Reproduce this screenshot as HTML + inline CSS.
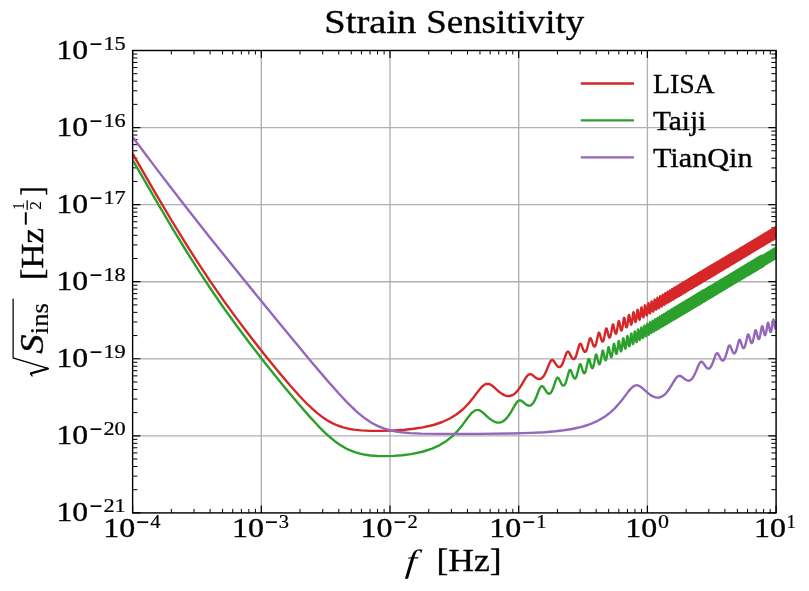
<!DOCTYPE html>
<html><head><meta charset="utf-8"><title>Strain Sensitivity</title>
<style>html,body{margin:0;padding:0;background:#fff;}svg{display:block;}text{font-family:"Liberation Serif",serif;fill:#000;stroke:#000;stroke-width:0.35;}.s{stroke-width:0.22;}.m{stroke-width:0;}.q{stroke-width:0.1;}</style></head><body>
<svg width="809" height="591" viewBox="0 0 809 591">
<rect x="0" y="0" width="809" height="591" fill="#fff"/>
<defs><clipPath id="ax"><rect x="132.6" y="50.5" width="643.5" height="462.4"/></clipPath></defs>
<path d="M132.6,50.5V512.9M261.3,50.5V512.9M390.0,50.5V512.9M518.7,50.5V512.9M647.4,50.5V512.9M776.1,50.5V512.9M132.6,50.5H776.1M132.6,127.6H776.1M132.6,204.6H776.1M132.6,281.7H776.1M132.6,358.8H776.1M132.6,435.8H776.1M132.6,512.9H776.1" stroke="#b0b0b0" stroke-width="1.35" fill="none"/>
<path d="M132.60,512.9v-7.5M132.60,50.5v7.5M261.30,512.9v-7.5M261.30,50.5v7.5M390.00,512.9v-7.5M390.00,50.5v7.5M518.70,512.9v-7.5M518.70,50.5v7.5M647.40,512.9v-7.5M647.40,50.5v7.5M776.10,512.9v-7.5M776.10,50.5v7.5M132.6,50.50h7.8M776.1,50.50h-7.8M132.6,127.57h7.8M776.1,127.57h-7.8M132.6,204.63h7.8M776.1,204.63h-7.8M132.6,281.70h7.8M776.1,281.70h-7.8M132.6,358.77h7.8M776.1,358.77h-7.8M132.6,435.83h7.8M776.1,435.83h-7.8M132.6,512.90h7.8M776.1,512.90h-7.8" stroke="#000" stroke-width="1.2" fill="none"/>
<path d="M171.34,512.9v-4.0M171.34,50.5v4.0M194.01,512.9v-4.0M194.01,50.5v4.0M210.09,512.9v-4.0M210.09,50.5v4.0M222.56,512.9v-4.0M222.56,50.5v4.0M232.75,512.9v-4.0M232.75,50.5v4.0M241.36,512.9v-4.0M241.36,50.5v4.0M248.83,512.9v-4.0M248.83,50.5v4.0M255.41,512.9v-4.0M255.41,50.5v4.0M300.04,512.9v-4.0M300.04,50.5v4.0M322.71,512.9v-4.0M322.71,50.5v4.0M338.79,512.9v-4.0M338.79,50.5v4.0M351.26,512.9v-4.0M351.26,50.5v4.0M361.45,512.9v-4.0M361.45,50.5v4.0M370.06,512.9v-4.0M370.06,50.5v4.0M377.53,512.9v-4.0M377.53,50.5v4.0M384.11,512.9v-4.0M384.11,50.5v4.0M428.74,512.9v-4.0M428.74,50.5v4.0M451.41,512.9v-4.0M451.41,50.5v4.0M467.49,512.9v-4.0M467.49,50.5v4.0M479.96,512.9v-4.0M479.96,50.5v4.0M490.15,512.9v-4.0M490.15,50.5v4.0M498.76,512.9v-4.0M498.76,50.5v4.0M506.23,512.9v-4.0M506.23,50.5v4.0M512.81,512.9v-4.0M512.81,50.5v4.0M557.44,512.9v-4.0M557.44,50.5v4.0M580.11,512.9v-4.0M580.11,50.5v4.0M596.19,512.9v-4.0M596.19,50.5v4.0M608.66,512.9v-4.0M608.66,50.5v4.0M618.85,512.9v-4.0M618.85,50.5v4.0M627.46,512.9v-4.0M627.46,50.5v4.0M634.93,512.9v-4.0M634.93,50.5v4.0M641.51,512.9v-4.0M641.51,50.5v4.0M686.14,512.9v-4.0M686.14,50.5v4.0M708.81,512.9v-4.0M708.81,50.5v4.0M724.89,512.9v-4.0M724.89,50.5v4.0M737.36,512.9v-4.0M737.36,50.5v4.0M747.55,512.9v-4.0M747.55,50.5v4.0M756.16,512.9v-4.0M756.16,50.5v4.0M763.63,512.9v-4.0M763.63,50.5v4.0M770.21,512.9v-4.0M770.21,50.5v4.0M132.6,104.37h4.8M776.1,104.37h-4.8M132.6,90.80h4.8M776.1,90.80h-4.8M132.6,81.17h4.8M776.1,81.17h-4.8M132.6,73.70h4.8M776.1,73.70h-4.8M132.6,67.60h4.8M776.1,67.60h-4.8M132.6,62.44h4.8M776.1,62.44h-4.8M132.6,57.97h4.8M776.1,57.97h-4.8M132.6,54.03h4.8M776.1,54.03h-4.8M132.6,181.43h4.8M776.1,181.43h-4.8M132.6,167.86h4.8M776.1,167.86h-4.8M132.6,158.23h4.8M776.1,158.23h-4.8M132.6,150.77h4.8M776.1,150.77h-4.8M132.6,144.66h4.8M776.1,144.66h-4.8M132.6,139.50h4.8M776.1,139.50h-4.8M132.6,135.04h4.8M776.1,135.04h-4.8M132.6,131.09h4.8M776.1,131.09h-4.8M132.6,258.50h4.8M776.1,258.50h-4.8M132.6,244.93h4.8M776.1,244.93h-4.8M132.6,235.30h4.8M776.1,235.30h-4.8M132.6,227.83h4.8M776.1,227.83h-4.8M132.6,221.73h4.8M776.1,221.73h-4.8M132.6,216.57h4.8M776.1,216.57h-4.8M132.6,212.10h4.8M776.1,212.10h-4.8M132.6,208.16h4.8M776.1,208.16h-4.8M132.6,335.57h4.8M776.1,335.57h-4.8M132.6,322.00h4.8M776.1,322.00h-4.8M132.6,312.37h4.8M776.1,312.37h-4.8M132.6,304.90h4.8M776.1,304.90h-4.8M132.6,298.80h4.8M776.1,298.80h-4.8M132.6,293.64h4.8M776.1,293.64h-4.8M132.6,289.17h4.8M776.1,289.17h-4.8M132.6,285.23h4.8M776.1,285.23h-4.8M132.6,412.63h4.8M776.1,412.63h-4.8M132.6,399.06h4.8M776.1,399.06h-4.8M132.6,389.43h4.8M776.1,389.43h-4.8M132.6,381.97h4.8M776.1,381.97h-4.8M132.6,375.86h4.8M776.1,375.86h-4.8M132.6,370.70h4.8M776.1,370.70h-4.8M132.6,366.24h4.8M776.1,366.24h-4.8M132.6,362.29h4.8M776.1,362.29h-4.8M132.6,489.70h4.8M776.1,489.70h-4.8M132.6,476.13h4.8M776.1,476.13h-4.8M132.6,466.50h4.8M776.1,466.50h-4.8M132.6,459.03h4.8M776.1,459.03h-4.8M132.6,452.93h4.8M776.1,452.93h-4.8M132.6,447.77h4.8M776.1,447.77h-4.8M132.6,443.30h4.8M776.1,443.30h-4.8M132.6,439.36h4.8M776.1,439.36h-4.8" stroke="#000" stroke-width="1.0" fill="none"/>
<g clip-path="url(#ax)" fill="none" stroke-width="2.4" stroke-linejoin="round" stroke-linecap="butt">
<polyline points="132.6,153.6 154.4,191.4 170.7,219.0 185.2,242.7 197.9,262.7 210.6,281.8 223.3,300.1 236.0,317.6 250.5,336.8 265.0,355.2 279.5,373.0 290.4,385.8 299.5,396.0 306.7,403.5 312.2,408.7 317.6,413.4 323.1,417.6 326.7,420.0 330.3,422.1 333.9,423.9 337.6,425.5 343.0,427.3 348.4,428.7 353.9,429.6 361.1,430.4 370.2,430.9 381.1,430.9 393.8,430.5 404.7,429.8 413.7,428.8 422.8,427.4 433.4,425.0 442.3,422.0 449.9,418.5 456.7,414.3 462.7,409.5 468.1,404.0 473.1,398.0 477.6,391.9 481.8,386.8 485.7,383.9 489.4,384.0 492.8,386.1 499.1,391.8 502.0,393.9 504.8,395.4 507.4,396.0 509.9,396.0 512.3,395.2 514.6,393.8 516.8,391.7 518.9,389.0 521.0,385.9 524.9,379.2 526.7,376.5 528.5,374.7 530.2,374.2 531.9,374.7 533.5,375.9 535.1,377.2 536.7,378.3 538.2,379.0 539.6,379.1 541.0,378.7 542.4,377.6 543.8,375.9 545.1,373.6 546.4,370.8 548.9,364.6 550.1,362.0 551.3,360.3 552.4,360.0 553.6,360.8 554.7,362.3 556.8,365.5 557.9,366.6 558.9,367.1 559.9,367.0 560.9,366.2 561.9,364.9 562.9,362.9 564.7,357.8 565.6,355.1 566.5,352.9 567.4,351.7 568.3,351.6 569.1,352.5 571.6,357.4 572.4,358.5 573.2,359.0 574.0,359.0 574.8,358.3 575.6,357.0 576.3,355.1 577.8,350.1 579.2,345.2 579.9,343.9 580.6,343.8 581.3,344.8 583.3,349.9 584.0,351.2 584.6,351.8 585.3,351.9 585.9,351.4 586.5,350.2 587.1,348.5 589.0,341.3 589.5,339.2 590.1,338.1 590.7,338.2 591.3,339.3 593.0,344.5 593.5,345.8 594.1,346.5 594.6,346.6 595.2,346.1 595.7,345.0 596.2,343.3 598.3,334.0 598.8,332.8 599.3,332.8 599.8,333.9 601.2,339.3 601.7,340.6 602.2,341.4 602.6,341.6 603.1,341.1 603.6,340.1 604.5,336.3 605.8,329.5 606.2,328.5 606.7,328.6 607.1,329.8 608.4,335.3 608.8,336.6 609.2,337.4 609.6,337.6 610.0,337.2 610.5,336.1 611.3,332.4 612.4,325.6 612.8,324.5 613.2,324.5 613.6,325.7 614.7,331.2 615.1,332.6 615.5,333.5 615.9,333.7 616.2,333.3 616.6,332.3 617.3,328.6 618.4,322.0 618.7,321.0 619.1,321.2 619.4,322.4 620.5,328.0 620.8,329.4 621.1,330.3 621.5,330.5 621.8,330.1 622.1,329.1 622.8,325.5 623.7,318.8 624.1,317.8 624.4,317.9 624.7,319.1 625.9,326.2 626.2,327.0 626.6,327.3 626.9,327.0 627.2,326.0 627.8,322.4 628.6,315.9 628.9,314.9 629.2,315.1 629.8,318.2 630.7,323.5 630.9,324.4 631.2,324.7 631.5,324.3 631.8,323.4 632.6,317.5 633.1,313.2 633.4,312.2 633.7,312.4 634.2,315.4 635.0,320.7 635.3,321.7 635.5,322.0 635.8,321.6 636.3,319.2 637.3,310.7 637.6,309.8 637.8,310.0 638.3,313.1 639.0,318.5 639.3,319.4 639.5,319.7 639.8,319.4 640.2,316.9 641.2,308.4 641.4,307.4 641.7,307.6 642.1,310.7 642.8,316.1 643.0,317.0 643.3,317.3 643.5,317.0 643.9,314.6 644.8,306.2 645.0,305.3 645.2,305.5 645.7,308.7 646.3,314.1 646.5,315.0 646.8,315.4 647.0,315.1 647.4,312.6 648.2,304.2 648.4,303.2 648.6,303.4 649.2,308.6 649.6,312.0 649.8,312.9 650.0,313.3 650.2,313.0 650.6,310.6 651.4,302.3 651.6,301.4 651.8,301.6 652.8,310.2 653.0,311.2 653.2,311.5 653.3,311.2 653.7,308.8 654.5,300.5 654.6,299.5 654.8,299.7 655.7,308.3 655.9,309.3 656.1,309.7 656.3,309.4 656.6,307.0 657.3,298.8 657.5,297.8 657.7,298.1 658.6,306.8 658.7,307.7 658.9,308.1 659.1,307.8 659.4,305.4 660.1,297.1 660.2,296.2 660.4,296.4 661.2,305.1 661.4,306.0 661.6,306.4 661.7,306.1 662.0,303.8 662.7,295.6 662.8,294.6 663.0,294.9 663.8,303.6 663.9,304.6 664.1,305.0 664.3,304.7 664.7,300.4 665.2,294.1 665.3,293.1 665.5,293.3 666.2,302.1 666.4,303.0 666.5,303.4 666.7,303.2 667.1,298.9 667.6,292.6 667.7,291.7 667.9,292.0 668.6,300.7 668.7,301.7 668.9,302.1 669.0,301.8 669.4,297.6 669.9,291.3 670.0,290.4 670.1,290.6 670.8,299.3 671.1,300.7 671.2,300.4 671.6,296.2 672.0,290.0 672.2,289.0 672.3,289.3 673.1,299.1 673.2,299.5 673.4,299.2 673.8,295.0 674.2,288.7 674.3,287.8 674.4,288.0 675.2,297.8 675.3,298.2 675.4,297.9 675.8,293.7 676.2,287.5 676.3,286.6 676.5,286.8 677.2,296.6 677.3,297.0 677.4,296.8 677.8,292.6 678.3,285.4 678.4,285.6 679.1,295.4 679.2,295.8 679.4,295.6 679.7,291.4 680.2,284.3 680.3,284.5 681.0,294.4 681.1,294.8 681.2,294.5 681.6,290.3 682.0,283.2 682.1,283.4 682.8,293.2 682.9,293.6 683.0,293.4 683.4,289.2 683.8,282.1 683.9,282.3 684.6,292.2 684.7,292.6 684.8,292.4 685.1,288.2 685.5,281.1 685.6,281.3 686.3,291.1 686.4,291.6 686.5,291.3 686.8,287.2 687.2,280.1 687.3,280.3 687.9,290.2 688.0,290.6 688.2,289.6 688.8,279.1 688.9,279.3 689.5,289.2 689.6,289.6 689.8,288.6 690.4,278.2 690.5,278.4 691.1,288.3 691.2,288.7 691.3,287.7 691.9,277.2 692.0,277.5 692.6,287.4 692.7,287.8 692.8,286.8 693.4,276.4 693.5,276.6 694.0,286.5 694.1,286.9 694.3,285.9 694.9,275.5 694.9,275.7 695.5,285.6 695.6,286.0 695.7,285.0 696.3,274.6 696.4,274.9 696.9,284.8 697.0,285.3 697.1,284.2 697.7,273.8 697.7,274.0 698.2,284.0 698.3,284.4 698.5,283.4 699.0,273.0 699.2,274.5 699.6,283.2 699.7,283.6 699.8,282.6 700.3,272.2 700.5,273.7 700.9,282.4 701.0,282.8 701.1,281.8 701.6,271.4 701.8,273.0 702.2,281.7 702.2,282.1 702.5,279.7 702.9,270.7 703.0,272.2 703.4,280.9 703.5,281.3 703.7,278.9 704.1,270.0 704.2,271.5 704.6,280.2 704.7,280.6 704.9,278.2 705.3,269.2 705.4,270.7 705.8,279.4 705.9,279.9 706.1,277.5 706.5,268.5 706.7,272.0 707.0,278.8 707.0,279.2 707.3,276.8 707.6,267.8 707.8,271.3 708.1,278.0 708.2,278.5 708.4,276.1 708.7,267.2 709.0,270.6 709.2,277.4 709.3,277.9 709.5,275.5 709.9,266.5 710.1,269.9 710.3,276.7 710.4,277.2 710.6,274.8 710.9,265.9 711.1,269.3 711.4,276.1 711.5,276.6 711.7,274.2 712.0,265.2 712.2,268.6 712.5,275.4 712.5,275.9 712.7,273.6 713.0,264.6 713.2,268.0 713.5,274.8 713.6,275.3 713.8,273.0 714.1,264.0 714.3,267.4 714.6,274.7 714.8,272.3 715.1,263.4 715.3,269.0 715.6,274.1 715.8,271.8 716.1,262.8 716.3,268.3 716.6,273.5 716.7,271.2 717.0,262.2 717.3,267.8 717.5,272.9 717.7,270.6 718.0,261.6 718.2,267.2 718.5,272.3 718.6,270.0 718.9,261.1 719.2,266.6 719.4,271.8 719.6,269.5 719.9,260.5 720.1,268.1 720.3,271.2 720.5,268.9 720.8,260.0 721.2,270.7 721.4,268.4 721.7,259.4 722.1,270.2 722.3,267.9 722.5,258.9 723.0,269.7 723.2,265.5 723.4,258.4 723.8,269.1 724.1,265.0 724.3,257.9 724.7,268.6 724.9,264.5 725.1,257.4 725.5,268.1 725.7,264.0 725.9,256.9 726.3,267.6 726.6,263.5 726.8,256.4 727.2,267.1 727.4,263.0 727.6,255.9 728.0,266.7 728.2,262.6 728.4,255.4 728.7,266.2 728.9,262.1 729.1,255.0 729.5,265.7 729.7,261.7 729.9,254.5 730.3,265.3 730.5,261.2 730.7,254.1 731.0,264.8 731.2,260.8 731.4,253.6 731.8,264.4 732.0,258.1 732.2,253.2 732.5,263.9 732.7,257.7 732.9,252.7 733.2,263.5 733.5,257.3 733.7,252.5 734.0,263.1 734.2,256.9 734.4,252.0 734.7,262.6 734.9,256.4 735.1,251.6 735.4,262.2 735.6,256.0 735.8,251.2 736.1,261.8 736.3,255.6 736.4,250.8 736.7,261.4 737.0,255.2 737.1,250.4 737.4,261.0 737.7,252.6 737.8,250.0 738.1,260.6 738.3,252.2 738.5,249.6 738.7,260.2 739.0,251.8 739.1,249.2 739.4,259.8 739.6,251.5 739.8,248.8 740.0,259.4 740.4,248.4 740.7,259.1 741.0,248.0 741.3,258.7 741.6,247.7 741.9,258.3 742.3,247.3 742.5,257.9 742.9,246.9 743.1,257.6 743.5,246.6 743.7,257.2 744.1,246.2 744.3,256.9 744.7,245.9 744.9,256.5 745.3,245.5 745.5,256.2 745.8,245.2 746.1,255.8 746.4,244.8 746.7,255.5 747.0,244.5 747.2,255.1 747.5,244.1 747.8,254.8 748.1,243.8 748.3,254.4 748.6,243.5 748.9,254.1 749.2,243.1 749.4,253.8 749.7,242.8 750.0,253.5 750.3,242.5 750.5,253.1 750.8,242.2 751.0,252.8 751.3,241.9 751.6,252.4 751.8,241.5 752.1,252.1 752.3,241.2 752.6,251.8 752.9,240.9 753.1,251.5 753.4,240.6 753.6,251.2 753.9,240.3 754.1,250.9 754.4,240.0 754.6,250.6 754.9,239.7 755.1,250.3 755.3,239.4 755.6,250.0 755.8,239.1 756.1,249.8 756.3,238.9 756.5,249.5 756.8,238.6 757.0,249.2 757.2,238.3 757.5,248.9 757.7,238.0 757.9,248.6 758.2,237.7 758.4,248.3 758.6,237.5 758.9,248.1 759.1,237.2 759.3,247.8 759.5,236.9 759.8,247.5 760.0,236.6 760.2,247.3 760.4,236.4 760.7,247.0 760.9,236.1 761.1,246.7 761.3,235.8 761.5,246.5 761.8,235.6 762.0,246.2 762.2,235.3 762.4,246.0 762.6,235.1 762.8,245.7 763.0,234.8 763.3,245.5 763.5,234.5 763.7,245.2 763.9,234.3 764.1,245.0 764.3,234.0 764.5,244.7 764.7,233.8 764.9,244.5 765.1,233.6 765.3,244.2 765.5,233.3 765.7,244.0 765.9,233.1 766.1,243.7 766.3,232.8 766.5,243.5 766.7,232.6 766.9,243.3 767.1,232.4 767.3,243.0 767.5,232.1 767.7,242.8 767.9,231.9 768.1,242.6 768.3,231.6 768.5,242.3 768.7,231.4 768.9,242.1 769.1,231.2 769.2,241.9 769.4,231.0 769.6,241.7 769.8,230.7 770.0,241.4 770.2,230.5 770.4,241.2 770.6,230.3 770.7,241.0 770.9,230.1 771.1,240.8 771.3,229.8 771.5,240.5 771.7,229.6 771.8,240.3 772.0,229.4 772.2,240.1 772.4,229.2 772.6,239.9 772.7,229.0 772.9,239.7 773.1,228.8 773.3,239.5 773.4,228.5 773.6,239.3 773.8,228.3 774.0,239.1 774.1,228.1 774.3,238.8 774.5,227.9 774.7,238.6 774.8,227.7 775.0,238.4 775.2,227.5 775.3,238.2 775.5,227.3 775.7,238.0 775.8,227.1 776.0,237.8 776.1,232.1" stroke="#d62728"/>
<polyline points="132.6,159.8 155.4,199.4 172.9,229.1 186.9,252.0 199.1,271.4 211.4,290.0 223.6,307.7 235.9,324.8 249.9,343.5 265.6,363.7 283.1,385.4 298.9,404.3 309.4,416.4 318.1,425.8 325.1,432.8 330.4,437.5 335.6,441.8 340.9,445.4 346.1,448.5 349.6,450.2 354.9,452.2 360.1,453.7 365.4,454.8 370.6,455.5 377.6,456.0 384.6,456.1 393.4,455.9 402.1,455.2 410.9,454.1 412.6,453.8 423.2,451.5 432.1,448.6 439.8,445.1 446.5,440.9 452.5,436.1 457.9,430.5 462.9,424.4 467.4,418.2 471.6,413.0 475.6,410.1 479.2,410.1 482.6,412.3 488.9,418.1 491.8,420.3 494.6,421.8 497.2,422.6 499.7,422.6 502.1,421.8 504.4,420.4 506.6,418.2 508.7,415.5 510.8,412.3 514.7,405.5 516.5,402.6 518.3,400.8 520.0,400.3 521.7,400.9 523.3,402.2 524.9,403.6 526.5,404.8 528.0,405.5 529.4,405.7 530.8,405.3 532.2,404.2 533.6,402.4 534.9,400.1 536.2,397.2 538.7,390.8 539.9,388.1 541.1,386.5 542.2,386.1 543.4,387.0 544.5,388.6 546.6,392.0 547.7,393.1 548.7,393.7 549.7,393.6 550.7,392.9 551.7,391.4 552.7,389.4 554.5,384.1 555.4,381.4 556.3,379.1 557.2,377.8 558.1,377.7 558.9,378.7 561.4,383.8 562.2,385.0 563.0,385.6 563.8,385.6 564.6,384.9 565.4,383.6 566.1,381.6 567.6,376.4 569.0,371.4 569.7,370.1 570.4,369.9 571.1,371.0 573.1,376.4 573.8,377.7 574.4,378.4 575.1,378.6 575.7,378.0 576.3,376.8 576.9,375.0 578.8,367.5 579.4,365.4 579.9,364.3 580.5,364.3 581.1,365.4 582.8,371.0 583.3,372.3 583.9,373.1 584.4,373.3 585.0,372.7 585.5,371.6 586.0,369.8 588.1,360.2 588.6,359.0 589.1,359.0 589.6,360.1 591.0,365.7 591.5,367.2 592.0,368.0 592.4,368.2 592.9,367.8 593.4,366.6 594.3,362.7 595.6,355.7 596.0,354.6 596.5,354.8 596.9,356.0 598.2,361.7 598.6,363.1 599.0,364.0 599.4,364.2 599.9,363.8 600.3,362.7 601.1,358.8 602.3,351.7 602.6,350.6 603.0,350.7 603.4,351.9 604.6,357.7 604.9,359.1 605.3,360.1 605.7,360.3 606.0,359.9 606.4,358.9 607.1,355.1 608.2,348.2 608.5,347.2 608.9,347.3 609.2,348.6 610.3,354.5 610.6,355.9 610.9,356.9 611.3,357.2 611.6,356.8 611.9,355.7 612.6,351.9 613.6,345.0 613.9,343.9 614.2,344.0 614.5,345.2 615.7,352.7 616.1,353.6 616.4,353.9 616.7,353.6 617.0,352.6 617.6,348.8 618.4,342.1 618.7,341.1 619.0,341.3 619.3,342.5 620.5,350.0 620.7,351.0 621.0,351.3 621.3,351.0 621.6,349.9 622.4,343.8 622.9,339.4 623.2,338.4 623.5,338.5 624.0,341.6 624.8,347.3 625.1,348.2 625.3,348.6 625.6,348.3 626.1,345.7 627.1,336.9 627.4,335.9 627.6,336.1 628.1,339.3 628.8,345.0 629.1,346.0 629.3,346.3 629.6,346.0 630.0,343.4 631.0,334.6 631.2,333.6 631.5,333.7 631.9,336.9 632.6,342.6 632.8,343.6 633.1,344.0 633.3,343.7 633.7,341.1 634.6,332.4 634.8,331.5 635.1,331.6 635.5,334.9 636.1,340.6 636.3,341.6 636.6,342.0 636.8,341.7 637.2,339.2 638.0,330.4 638.2,329.4 638.4,329.6 638.8,332.8 639.4,338.5 639.6,339.5 639.8,339.9 640.0,339.6 640.4,337.1 641.2,328.5 641.4,327.5 641.6,327.7 642.6,336.7 642.8,337.8 643.0,338.1 643.1,337.9 643.5,335.4 644.3,326.7 644.4,325.7 644.6,325.9 645.5,334.9 645.7,335.9 645.9,336.3 646.1,336.0 646.4,333.6 647.1,325.0 647.3,324.0 647.5,324.2 648.4,333.3 648.5,334.3 648.7,334.7 648.9,334.4 649.2,332.0 649.9,323.3 650.0,322.3 650.2,322.5 651.0,331.6 651.2,332.6 651.4,333.0 651.5,332.8 651.8,330.3 652.5,321.8 652.6,320.8 652.8,321.0 653.6,330.1 653.7,331.2 653.9,331.6 654.1,331.3 654.5,326.9 655.0,320.3 655.1,319.3 655.3,319.5 656.0,328.6 656.2,329.6 656.3,330.0 656.5,329.8 656.9,325.4 657.4,318.9 657.5,317.9 657.7,318.1 658.5,328.3 658.7,328.7 658.8,328.5 659.2,324.1 659.7,317.5 659.8,316.5 659.9,316.7 660.8,326.9 660.9,327.3 661.0,327.1 661.4,322.7 661.9,316.2 662.0,315.2 662.1,315.4 662.9,325.7 663.1,326.1 663.2,325.9 663.6,321.5 664.0,314.9 664.1,313.9 664.2,314.1 665.0,324.3 665.1,324.8 665.3,324.6 665.6,320.2 666.1,312.7 666.3,312.9 667.0,323.2 667.1,323.7 667.2,323.4 667.6,319.1 668.1,311.5 668.2,311.7 668.9,322.0 669.1,322.4 669.2,322.2 669.5,317.9 670.0,310.4 670.1,310.6 670.8,320.9 670.9,321.4 671.0,321.2 671.4,316.8 671.8,309.3 671.9,309.5 672.6,319.8 672.7,320.2 672.8,320.0 673.2,315.7 673.6,308.3 673.7,308.5 674.4,318.8 674.5,319.2 674.6,319.0 674.9,314.7 675.3,307.2 675.4,307.4 676.1,317.7 676.2,318.2 676.3,318.0 676.6,313.7 677.0,306.2 677.1,306.4 677.7,316.8 677.8,317.2 677.9,317.1 678.3,310.5 678.6,305.3 678.7,305.4 679.3,315.8 679.4,316.2 679.5,316.0 679.9,309.5 680.2,304.3 680.3,304.5 680.9,314.9 681.0,315.4 681.1,314.3 681.7,303.4 681.8,303.6 682.4,313.9 682.5,314.4 682.7,313.4 683.2,302.5 683.3,302.7 683.8,313.1 683.9,313.6 684.1,312.5 684.7,301.6 684.8,301.8 685.3,312.2 685.4,312.7 685.5,311.7 686.1,300.8 686.2,301.0 686.7,311.4 686.8,311.9 686.9,310.9 687.5,300.0 687.5,300.1 688.1,310.5 688.1,311.0 688.3,310.0 688.8,299.2 688.9,299.3 689.4,309.8 689.5,310.3 689.6,309.3 690.1,298.4 690.2,298.5 690.7,308.9 690.8,309.4 690.9,308.4 691.4,297.6 691.5,297.8 692.0,308.2 692.0,308.7 692.2,307.7 692.7,296.9 692.7,297.0 693.2,307.4 693.3,307.9 693.4,307.0 693.9,296.1 694.0,297.6 694.4,306.7 694.5,307.2 694.6,306.3 695.1,295.4 695.2,296.8 695.6,306.0 695.7,306.5 695.9,304.1 696.3,294.7 696.4,296.1 696.8,305.3 696.8,305.8 697.1,303.4 697.4,294.0 697.6,295.4 697.9,304.6 698.0,305.1 698.2,302.7 698.6,293.3 698.7,294.8 699.0,304.0 699.1,304.5 699.3,302.1 699.7,292.7 699.8,294.1 700.1,303.3 700.2,303.8 700.4,301.4 700.7,292.0 700.9,295.4 701.2,302.6 701.3,303.2 701.5,300.8 701.8,291.4 702.0,294.8 702.3,302.5 702.5,300.2 702.9,290.8 703.0,294.2 703.4,301.9 703.6,299.6 703.9,290.2 704.1,293.5 704.4,301.3 704.6,298.9 704.9,289.6 705.1,292.9 705.4,300.7 705.6,298.4 705.9,289.0 706.1,292.3 706.4,300.1 706.5,297.8 706.8,288.4 707.0,291.7 707.3,299.5 707.5,297.2 707.8,287.8 708.0,291.1 708.3,298.9 708.5,296.6 708.7,287.2 709.0,292.8 709.2,298.4 709.4,296.1 709.7,286.7 709.9,292.3 710.1,297.8 710.3,295.6 710.6,286.2 710.8,291.7 711.0,297.3 711.2,295.0 711.5,285.6 711.7,291.2 711.9,296.8 712.1,294.5 712.4,285.1 712.6,290.7 712.8,296.3 713.0,294.0 713.2,284.6 713.4,290.1 713.6,295.7 713.8,293.5 714.1,284.1 714.3,289.6 714.5,295.2 714.7,293.0 714.9,283.6 715.2,291.2 715.3,294.7 715.5,292.5 715.7,283.1 716.2,294.2 716.4,290.1 716.6,282.6 717.0,293.7 717.2,289.6 717.4,282.1 717.8,293.3 718.0,289.2 718.2,281.6 718.5,292.8 718.7,288.7 718.9,281.2 719.3,292.3 719.5,288.2 719.7,280.7 720.1,291.9 720.3,287.8 720.5,280.2 720.8,291.4 721.0,287.4 721.2,279.8 721.6,291.0 721.8,286.9 722.0,279.4 722.3,290.5 722.5,286.5 722.7,279.0 723.1,290.1 723.2,286.0 723.5,278.6 723.8,289.7 723.9,285.6 724.2,278.1 724.5,289.2 724.7,283.0 724.9,277.7 725.2,288.8 725.4,282.6 725.6,277.3 725.9,288.4 726.1,282.2 726.3,276.9 726.5,288.0 726.8,281.8 726.9,276.5 727.2,287.6 727.4,281.4 727.6,276.1 727.9,287.2 728.1,281.0 728.3,275.7 728.5,286.8 728.7,280.6 728.9,275.3 729.2,286.4 729.4,280.2 729.6,274.9 729.8,286.0 730.0,279.8 730.2,274.5 730.5,285.7 730.7,277.2 730.8,274.1 731.1,285.3 731.3,276.8 731.5,273.7 731.7,284.9 732.0,276.4 732.1,273.4 732.3,284.5 732.6,276.1 732.7,273.0 732.9,284.2 733.2,275.7 733.3,272.6 733.5,283.8 733.9,272.3 734.1,283.5 734.5,271.9 734.7,283.1 735.1,271.6 735.3,282.7 735.6,271.2 735.9,282.4 736.2,270.9 736.5,282.0 736.8,270.5 737.1,281.7 737.3,270.2 737.6,281.4 737.9,269.9 738.2,281.0 738.4,269.5 738.7,280.7 739.0,269.2 739.3,280.4 739.5,268.9 739.8,280.1 740.1,268.6 740.3,279.7 740.6,268.2 740.9,279.4 741.1,267.9 741.4,279.1 741.6,267.6 741.9,278.8 742.2,267.3 742.4,278.5 742.7,267.0 742.9,278.2 743.2,266.7 743.4,277.9 743.7,266.4 743.9,277.6 744.2,266.1 744.4,277.3 744.7,265.8 744.9,277.0 745.1,265.5 745.4,276.7 745.6,265.2 745.9,276.4 746.1,264.9 746.3,276.1 746.6,264.6 746.8,275.9 747.1,264.3 747.3,275.6 747.5,264.1 747.8,275.3 748.0,263.8 748.2,275.0 748.4,263.5 748.7,274.8 748.9,263.2 749.1,274.5 749.4,263.0 749.6,274.2 749.8,262.7 750.0,273.9 750.2,262.4 750.5,273.7 750.7,262.2 750.9,273.4 751.1,261.9 751.3,273.2 751.6,261.6 751.8,272.9 752.0,261.4 752.2,272.6 752.4,261.1 752.6,272.4 752.8,260.9 753.1,272.1 753.3,260.6 753.5,271.9 753.7,260.4 753.9,271.6 754.1,260.1 754.3,271.4 754.5,259.9 754.7,271.1 754.9,259.6 755.1,270.9 755.3,259.4 755.5,270.7 755.7,259.1 755.9,270.4 756.1,258.9 756.3,270.2 756.5,258.6 756.7,269.9 756.9,258.4 757.1,269.7 757.3,258.2 757.5,269.5 757.7,257.9 757.9,269.2 758.1,257.7 758.3,269.0 758.5,257.5 758.7,268.8 758.9,257.2 759.1,268.5 759.2,257.0 759.4,268.3 759.6,256.8 759.8,268.1 760.0,256.6 760.2,267.9 760.4,256.3 760.5,267.7 760.7,256.1 760.9,267.4 761.1,255.9 761.3,267.2 761.5,255.7 761.6,267.0 761.8,256.4 762.0,266.8 762.2,256.2 762.4,266.6 762.6,256.0 762.7,266.4 762.9,255.8 763.1,266.2 763.3,255.6 763.4,265.9 763.6,255.3 763.8,265.7 764.0,255.1 764.1,265.0 764.3,254.9 764.5,264.8 764.7,254.7 764.8,264.6 765.0,254.5 765.2,264.4 765.3,254.3 765.5,264.2 765.7,254.1 765.8,264.0 766.0,253.9 766.2,263.8 766.3,253.7 766.5,263.6 766.7,253.5 766.8,263.4 767.0,253.3 767.2,263.2 767.3,253.1 767.5,263.0 767.7,252.9 767.8,262.8 768.0,252.7 768.1,262.6 768.3,252.5 768.5,262.4 768.6,252.3 768.8,262.2 768.9,252.1 769.1,262.0 769.3,251.9 769.4,261.8 769.6,251.7 769.7,261.7 769.9,251.5 770.0,261.5 770.2,251.3 770.4,261.3 770.5,251.1 770.7,261.1 770.8,250.9 771.0,260.9 771.1,250.8 771.3,260.7 771.4,250.6 771.6,260.6 771.7,250.4 771.9,260.4 772.0,250.2 772.2,260.2 772.3,250.0 772.5,260.0 772.6,249.8 772.8,259.9 772.9,249.6 773.1,259.7 773.2,249.5 773.4,259.5 773.5,249.3 773.7,259.3 773.8,249.1 773.9,259.2 774.1,248.9 774.2,259.0 774.4,248.8 774.5,258.8 774.7,248.6 774.8,258.7 775.0,248.4 775.1,258.5 775.2,248.2 775.4,258.3 775.5,248.1 775.7,258.2 775.8,247.9 775.9,258.0 776.1,247.7 776.1,249.5" stroke="#2ca02c"/>
<polyline points="132.6,137.0 157.3,169.9 182.0,202.0 209.5,236.9 239.7,274.5 278.2,321.7 311.1,361.5 327.6,380.9 338.6,393.3 346.8,402.1 352.3,407.5 357.8,412.6 363.3,417.1 366.0,419.1 368.8,421.0 371.5,422.7 374.3,424.2 377.0,425.6 379.8,426.8 382.5,427.9 385.3,428.9 390.8,430.4 396.3,431.5 401.7,432.3 410.0,433.1 421.0,433.6 440.2,433.9 478.6,433.9 511.6,433.5 530.8,432.9 544.6,432.2 555.5,431.3 563.8,430.3 572.0,429.0 576.5,428.0 580.6,427.1 584.5,426.0 588.1,424.8 591.5,423.6 594.7,422.2 597.7,420.8 600.5,419.2 603.3,417.6 605.9,415.9 608.3,414.0 610.7,412.1 613.0,410.0 615.2,407.9 619.3,403.3 623.2,398.4 628.5,391.4 630.2,389.4 631.8,387.7 633.4,386.4 634.9,385.6 636.4,385.3 637.8,385.4 639.3,385.9 640.6,386.8 643.3,388.9 648.3,393.4 650.6,395.1 652.8,396.4 655.0,397.2 657.0,397.6 659.0,397.5 661.0,396.9 662.8,396.0 664.6,394.6 666.4,392.8 668.9,389.5 672.1,384.3 675.1,379.3 676.6,377.4 677.3,376.7 678.0,376.2 678.7,376.0 679.4,375.9 680.0,376.0 681.4,376.5 685.8,379.8 687.0,380.4 688.2,380.7 689.3,380.6 690.4,380.1 691.6,379.2 692.6,377.9 694.2,375.3 696.3,370.7 698.7,364.8 699.7,363.0 700.2,362.4 700.6,361.9 701.1,361.7 701.6,361.7 702.0,361.8 702.9,362.6 706.0,367.0 707.2,368.2 708.0,368.6 708.9,368.6 709.7,368.2 710.4,367.4 711.6,365.5 713.1,361.8 715.3,355.6 716.0,354.1 716.7,353.3 717.1,353.2 717.4,353.2 718.1,353.8 719.1,355.6 720.8,358.8 721.7,360.1 722.4,360.5 723.0,360.6 723.6,360.2 724.5,359.0 725.4,356.9 726.9,352.1 728.3,347.1 728.9,345.9 729.2,345.6 729.5,345.4 729.7,345.4 730.3,346.0 731.4,348.6 732.7,351.9 733.5,353.1 734.0,353.4 734.5,353.4 735.0,353.0 735.8,351.7 736.8,348.6 738.7,341.2 739.1,340.1 739.4,339.8 739.6,339.7 739.8,339.8 740.3,340.5 741.4,343.8 742.5,346.9 743.2,348.0 743.6,348.2 744.1,348.0 744.7,347.0 745.5,344.4 747.4,336.0 747.8,334.8 748.0,334.5 748.2,334.4 748.4,334.4 748.8,335.1 750.0,339.2 750.9,342.2 751.5,343.0 751.8,343.1 752.2,342.8 752.8,341.6 753.7,337.9 754.9,331.6 755.3,330.5 755.5,330.2 755.6,330.1 755.8,330.2 756.3,331.4 757.8,337.7 758.3,338.8 758.7,339.1 759.0,339.0 759.5,338.2 760.1,335.7 761.7,327.0 762.0,326.2 762.2,326.1 762.3,326.1 762.8,327.3 764.2,333.6 764.6,334.8 764.9,335.2 765.2,335.1 765.6,334.3 766.4,331.2 767.6,323.5 767.9,322.8 768.1,322.7 768.3,323.0 768.9,325.4 769.8,330.4 770.3,331.6 770.5,332.0 770.8,332.0 771.2,331.2 771.8,328.1 773.0,320.3 773.3,319.5 773.4,319.4 773.5,319.4 773.9,320.6 775.1,327.6 775.5,328.6 775.7,328.8 776.0,328.6 776.1,328.4" stroke="#9467bd"/>
</g>
<rect x="132.6" y="50.5" width="643.5" height="462.4" fill="none" stroke="#000" stroke-width="1.3"/>
<g style="opacity:0.999">
<text x="324.30" y="32.75" font-size="32.80" textLength="92.06" lengthAdjust="spacingAndGlyphs">Strain</text>
<text x="426.25" y="32.75" font-size="32.80" textLength="157.90" lengthAdjust="spacingAndGlyphs">Sensitivity</text>
<text x="56.50" y="59.00" font-size="27.81" textLength="31.70" lengthAdjust="spacingAndGlyphs">10</text>
<text x="89.25" y="55.90" font-size="35.51" textLength="13.21" lengthAdjust="spacingAndGlyphs" class="m">−</text>
<text x="103.45" y="49.95" font-size="19.02" textLength="22.36" lengthAdjust="spacingAndGlyphs" class="s">15</text>
<text x="56.50" y="136.07" font-size="27.81" textLength="31.70" lengthAdjust="spacingAndGlyphs">10</text>
<text x="89.25" y="132.97" font-size="35.51" textLength="13.21" lengthAdjust="spacingAndGlyphs" class="m">−</text>
<text x="103.45" y="127.02" font-size="19.02" textLength="22.36" lengthAdjust="spacingAndGlyphs" class="s">16</text>
<text x="56.50" y="213.13" font-size="27.81" textLength="31.70" lengthAdjust="spacingAndGlyphs">10</text>
<text x="89.25" y="210.03" font-size="35.51" textLength="13.21" lengthAdjust="spacingAndGlyphs" class="m">−</text>
<text x="103.45" y="204.08" font-size="19.02" textLength="22.36" lengthAdjust="spacingAndGlyphs" class="s">17</text>
<text x="56.50" y="290.20" font-size="27.81" textLength="31.70" lengthAdjust="spacingAndGlyphs">10</text>
<text x="89.25" y="287.10" font-size="35.51" textLength="13.21" lengthAdjust="spacingAndGlyphs" class="m">−</text>
<text x="103.45" y="281.15" font-size="19.02" textLength="22.36" lengthAdjust="spacingAndGlyphs" class="s">18</text>
<text x="56.50" y="367.27" font-size="27.81" textLength="31.70" lengthAdjust="spacingAndGlyphs">10</text>
<text x="89.25" y="364.17" font-size="35.51" textLength="13.21" lengthAdjust="spacingAndGlyphs" class="m">−</text>
<text x="103.45" y="358.22" font-size="19.02" textLength="22.36" lengthAdjust="spacingAndGlyphs" class="s">19</text>
<text x="56.50" y="444.33" font-size="27.81" textLength="31.70" lengthAdjust="spacingAndGlyphs">10</text>
<text x="89.25" y="441.23" font-size="35.51" textLength="13.21" lengthAdjust="spacingAndGlyphs" class="m">−</text>
<text x="103.45" y="435.28" font-size="19.02" textLength="22.36" lengthAdjust="spacingAndGlyphs" class="s">20</text>
<text x="56.50" y="521.40" font-size="27.81" textLength="31.70" lengthAdjust="spacingAndGlyphs">10</text>
<text x="89.25" y="518.30" font-size="35.51" textLength="13.21" lengthAdjust="spacingAndGlyphs" class="m">−</text>
<text x="103.45" y="512.35" font-size="19.02" textLength="22.36" lengthAdjust="spacingAndGlyphs" class="s">21</text>
<text x="103.20" y="536.50" font-size="27.81" textLength="31.98" lengthAdjust="spacingAndGlyphs">10</text>
<text x="135.95" y="533.60" font-size="35.51" textLength="13.21" lengthAdjust="spacingAndGlyphs" class="m">−</text>
<text x="150.15" y="527.75" font-size="19.75" textLength="10.27" lengthAdjust="spacingAndGlyphs" class="s">4</text>
<text x="231.90" y="536.50" font-size="27.81" textLength="31.98" lengthAdjust="spacingAndGlyphs">10</text>
<text x="264.65" y="533.60" font-size="35.51" textLength="13.21" lengthAdjust="spacingAndGlyphs" class="m">−</text>
<text x="278.85" y="527.75" font-size="19.75" textLength="10.27" lengthAdjust="spacingAndGlyphs" class="s">3</text>
<text x="360.60" y="536.50" font-size="27.81" textLength="31.98" lengthAdjust="spacingAndGlyphs">10</text>
<text x="393.35" y="533.60" font-size="35.51" textLength="13.21" lengthAdjust="spacingAndGlyphs" class="m">−</text>
<text x="407.55" y="527.75" font-size="19.75" textLength="10.27" lengthAdjust="spacingAndGlyphs" class="s">2</text>
<text x="489.30" y="536.50" font-size="27.81" textLength="31.98" lengthAdjust="spacingAndGlyphs">10</text>
<text x="522.05" y="533.60" font-size="35.51" textLength="13.21" lengthAdjust="spacingAndGlyphs" class="m">−</text>
<text x="536.25" y="527.75" font-size="19.75" textLength="10.27" lengthAdjust="spacingAndGlyphs" class="s">1</text>
<text x="625.20" y="536.50" font-size="27.81" textLength="31.98" lengthAdjust="spacingAndGlyphs">10</text>
<text x="658.05" y="527.65" font-size="19.76" textLength="10.97" lengthAdjust="spacingAndGlyphs" class="s">0</text>
<text x="753.90" y="536.50" font-size="27.81" textLength="31.98" lengthAdjust="spacingAndGlyphs">10</text>
<text x="786.50" y="527.70" font-size="19.50" textLength="9.43" lengthAdjust="spacingAndGlyphs" class="s">1</text>
<path d="M580.8,83.5H634.0" stroke="#d62728" stroke-width="2.4" fill="none"/>
<text x="652.95" y="92.70" font-size="28.00" textLength="61.77" lengthAdjust="spacingAndGlyphs">LISA</text>
<path d="M580.8,120.4H634.0" stroke="#2ca02c" stroke-width="2.4" fill="none"/>
<text x="652.95" y="129.60" font-size="28.00" textLength="53.21" lengthAdjust="spacingAndGlyphs">Taiji</text>
<path d="M580.8,157.4H634.0" stroke="#9467bd" stroke-width="2.4" fill="none"/>
<text x="652.95" y="166.50" font-size="28.00" textLength="99.71" lengthAdjust="spacingAndGlyphs">TianQin</text>
<text transform="translate(404.92,571.65) skewX(-5)" font-size="32.20" textLength="10.92" lengthAdjust="spacingAndGlyphs" font-style="italic" class="m">f</text>
<text x="436.50" y="571.30" font-size="31.79" textLength="65.14" lengthAdjust="spacingAndGlyphs">[Hz]</text>
<g transform="rotate(-90)">
<path d="M-376.40,32.40 L-373.60,30.20" stroke="#000" stroke-width="1.3" fill="none" stroke-linejoin="miter" stroke-miterlimit="10"/>
<path d="M-373.60,30.20 L-368.50,48.20" stroke="#000" stroke-width="2.3" fill="none"/>
<path d="M-368.50,48.20 L-357.95,13.10 L-299.30,13.10" stroke="#000" stroke-width="1.4" fill="none" stroke-linecap="square"/>
<text x="-353.85" y="43.20" font-size="33.66" textLength="19.40" lengthAdjust="spacingAndGlyphs" font-style="italic">S</text>
<text x="-334.20" y="48.15" font-size="24.15" textLength="31.13" lengthAdjust="spacingAndGlyphs" class="s">ins</text>
<text x="-280.30" y="42.70" font-size="31.79" textLength="52.46" lengthAdjust="spacingAndGlyphs">[Hz</text>
<text x="-225.90" y="39.45" font-size="40.42" textLength="15.00" lengthAdjust="spacingAndGlyphs" class="m">−</text>
<text x="-209.65" y="24.40" font-size="17.63" textLength="7.33" lengthAdjust="spacingAndGlyphs" class="q">1</text>
<text x="-209.75" y="40.90" font-size="16.50" textLength="8.58" lengthAdjust="spacingAndGlyphs" class="q">2</text>
<path d="M-209.8,27.2H-200.3" stroke="#000" stroke-width="1.3"/>
<text x="-195.45" y="42.95" font-size="31.49" textLength="9.07" lengthAdjust="spacingAndGlyphs">]</text>
</g>
</g>
</svg></body></html>
